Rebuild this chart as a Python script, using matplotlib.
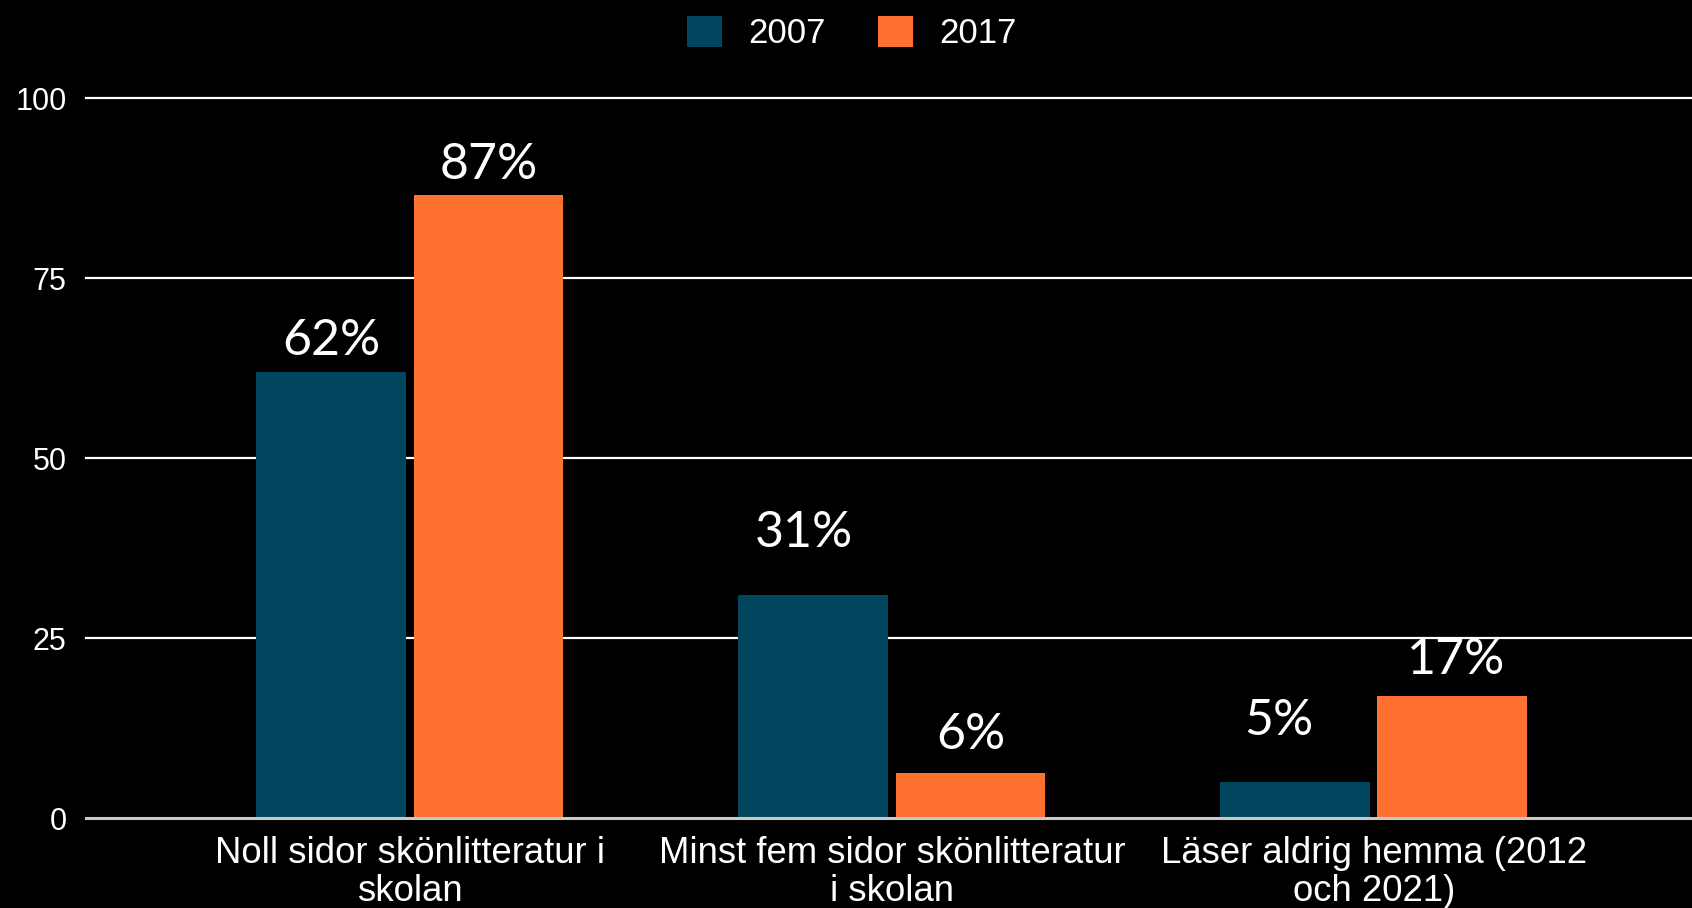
import matplotlib
matplotlib.use("Agg")
import matplotlib.pyplot as plt
import numpy as np

categories = ["Noll sidor skönlitteratur i\nskolan",
              "Minst fem sidor skönlitteratur\ni skolan",
              "Läser aldrig hemma (2012\noch 2021)"]
series_names = ["2007", "2017"]
values_2007 = [62, 31, 5]
values_2017 = [86.5, 6.3, 17]
labels_2007 = ["62%", "31%", "5%"]
labels_2017 = ["87%", "6%", "17%"]
yticks = [0, 25, 50, 75, 100]

colors = ["#01465F", "#FF7131"]
# label placement tweaks (style only)
lab_dy_2007 = [4.3, 8.6, 8.5]
lab_dy_2017 = [4.2, 5.2, 4.9]
lab_dx_2007 = [0.0, -0.019, -0.035]
lab_dx_2017 = [0.0, 0.0, 0.008]

fig = plt.figure(figsize=(16.92, 9.08), dpi=100, facecolor="black")
ax = fig.add_axes([86/1692, 90/908, 1 - 86/1692, (818-98)/908])
ax.set_facecolor("black")

x = np.arange(len(categories))
w = 0.311
off = 0.163
b1 = ax.bar(x - off, values_2007, w, color=colors[0], label=series_names[0], zorder=3)
b2 = ax.bar(x + off, values_2017, w, color=colors[1], label=series_names[1], zorder=3)

for bars, labs, dys, dxs in [(b1, labels_2007, lab_dy_2007, lab_dx_2007),
                             (b2, labels_2017, lab_dy_2017, lab_dx_2017)]:
    for b, lab, dy, dx in zip(bars, labs, dys, dxs):
        ax.text(b.get_x() + b.get_width()/2 + dx, b.get_height() + dy, lab,
                ha="center", va="center", color="white", fontsize=36,
                family="Lato", zorder=4)

ax.set_xlim(-0.672, 2.66)
ax.set_ylim(0, 100)
ax.set_yticks(yticks)
ax.set_yticklabels([str(t) for t in yticks])
ax.set_xticks(x)
ax.set_xticklabels(categories, linespacing=1.11)
for lab in ax.get_xticklabels():
    lab.set_family("Liberation Sans")
    lab.set_fontsize(26.3)
    lab.set_color("white")
for lab in ax.get_yticklabels():
    lab.set_family("Liberation Sans")
    lab.set_fontsize(22)
    lab.set_color("white")
ax.tick_params(axis="both", length=0)
ax.tick_params(axis="y", pad=14)
ax.tick_params(axis="x", pad=13)

for t in yticks[1:]:
    ax.axhline(t, color="white", lw=1.6, zorder=1, clip_on=False)
ax.axhline(0, color="#c8c8c8", lw=2.2, zorder=5, clip_on=False)
for s in ax.spines.values():
    s.set_visible(False)

leg = fig.legend(loc="upper center", bbox_to_anchor=(0.5035, 1.017), ncol=2,
                 frameon=False, prop={"family": "Liberation Sans", "size": 25},
                 handlelength=1.0, handleheight=1.0, handletextpad=0.76,
                 columnspacing=1.52, labelcolor="white")

fig.savefig("out.png", dpi=100, facecolor="black")
